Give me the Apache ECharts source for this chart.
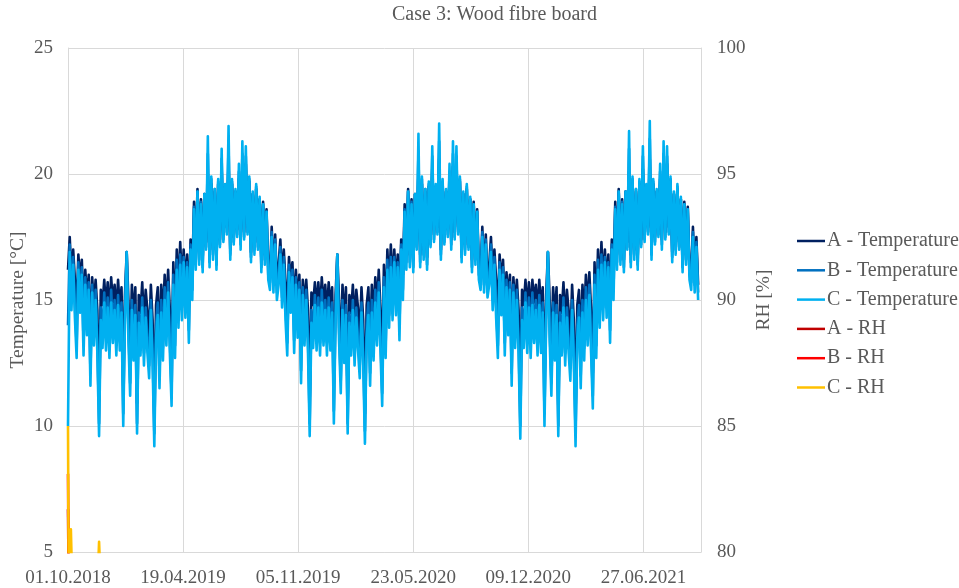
<!DOCTYPE html>
<html>
<head>
<meta charset="utf-8">
<script src="https://cdn.jsdelivr.net/npm/echarts@6/dist/echarts.min.js"></script>
<style>html,body{margin:0;padding:0;background:#fff;}#c{width:959px;height:588px;}</style>
</head>
<body>
<div id="c"></div>
<script>
// ---- data ----
const chartTitle = 'Case 3: Wood fibre board';
const seriesNames = ['A - Temperature', 'B - Temperature', 'C - Temperature', 'A - RH', 'B - RH', 'C - RH'];
const xTickLabels = ['01.10.2018', '19.04.2019', '05.11.2019', '23.05.2020', '09.12.2020', '27.06.2021'];
const xTickStepDays = 200;
const xMaxDays = 1100;
const sampleStepDays = 3; // temperature samples every 3 days from 01.10.2018

// A - Temperature [°C]
const aTempY1 = [16.2,17.5,15.9,17.0,15.8,14.6,16.8,15.8,16.6,14.6,
 16.2,15.1,16.0,13.4,15.9,14.8,15.8,14.6,11.0,15.4,
 14.8,15.8,14.7,15.7,14.4,15.9,14.9,15.6,14.5,15.8,
 14.7,15.5,11.6,15.2,16.9,15.0,12.8,15.6,14.3,15.5,
 10.9,15.2,14.5,15.7,14.1,15.4,14.6,13.4,15.6,14.2,
 10.4,14.8,15.5,13.0,15.6,14.3,16.0,14.7,16.2,14.6,
 12.2,16.5,14.3,17.0,15.4,17.3,15.6,17.0,15.6,16.8,
 14.7,17.4,16.0,18.9,16.8,19.4,16.9,19.0,16.6,19.2,
 17.3,20.0,16.8,19.6,17.0,19.3,16.7,19.6,17.4,20.2,
 17.6,19.5,17.9,20.5,17.0,19.6,17.5,19.3,17.8,19.8,
 17.4,20.3,17.7,20.4,17.9,19.7,16.9,19.2,17.2,19.4,
 17.3,19.0,16.6,18.9,16.8,18.6,16.3,16.0,17.9,15.9,
 17.6,15.6];
const aTempY2 = [16.4,17.4,15.9,17.0,15.7,14.6,16.7,15.8,16.5,14.7,
 16.2,15.0,16.0,13.5,15.8,14.8,15.8,14.6,11.0,15.3,
 14.8,15.7,14.7,15.7,14.5,15.9,14.8,15.6,14.5,15.7,
 14.7,15.5,11.7,15.2,16.8,15.0,12.9,15.6,14.2,15.5,
 10.9,15.2,14.5,15.6,14.1,15.4,14.7,13.4,15.5,14.2,
 10.5,14.8,15.5,13.1,15.6,14.3,15.9,14.7,16.2,14.7,
 12.2,16.4,14.3,17.0,15.4,17.2,15.6,17.0,15.7,16.8,
 14.8,17.4,16.0,18.8,16.8,19.4,16.8,19.0,16.6,19.2,
 17.3,20.1,16.8,19.6,17.0,19.3,16.7,19.5,17.4,20.2,
 17.6,19.5,17.9,20.6,17.0,19.6,17.5,19.3,17.8,19.8,
 17.4,20.3,17.7,20.4,17.9,19.7,16.9,19.2,17.2,19.4,
 17.3,19.0,16.6,18.9,16.8,18.6,16.3,16.0,17.9,15.9,
 17.6,15.7];
const aTempY3 = [16.4,17.5,15.9,17.0,15.8,14.6,16.8,15.7,16.6,14.6,
 16.1,15.1,16.0,13.4,15.9,14.7,15.8,14.6,10.9,15.4,
 14.8,15.8,14.6,15.7,14.4,15.8,14.9,15.6,14.5,15.8,
 14.6,15.5,11.6,15.2,16.9,15.0,12.8,15.5,14.3,15.5,
 10.8,15.2,14.5,15.7,14.1,15.4,14.6,13.3,15.6,14.2,
 10.4,14.8,15.4,13.0,15.6,14.3,16.0,14.7,16.1,14.6,
 12.1,16.5,14.3,17.0,15.4,17.3,15.6,17.0,15.6,16.8,
 14.7,17.4,16.0,18.9,16.8,19.4,16.9,19.0,16.6,19.3,
 17.3,20.1,16.8,19.6,17.0,19.3,16.7,19.6,17.4,20.2,
 17.6,19.5,17.9,20.6,17.0,19.6,17.5,19.3,17.8,19.8,
 17.4,20.3,17.7,20.4,17.9,19.7,16.9,19.2,17.2,19.4,
 17.3,19.0,16.6,18.9,16.8,18.7,16.3,16.0,17.9,15.9,
 17.5,15.6];

// B - Temperature [°C]
const bTempY1 = [14.0,17.2,15.0,16.7,14.8,13.2,16.5,14.9,16.3,13.3,
 15.9,14.0,15.7,12.1,15.6,13.7,15.4,13.4,10.1,14.7,
 13.6,15.3,13.5,15.1,13.2,15.4,13.8,15.0,13.3,15.2,
 13.5,14.9,10.5,14.6,16.9,13.9,11.7,15.0,13.1,14.8,
 10.1,14.5,13.3,15.1,12.9,14.7,13.4,12.4,15.0,13.0,
 9.7,14.0,14.9,12.0,15.0,13.1,15.5,13.7,15.7,13.4,
 11.3,16.0,13.2,16.6,14.4,16.8,14.7,16.7,14.7,16.5,
 13.8,17.2,15.4,18.7,16.5,19.3,16.6,18.9,16.3,19.2,
 17.1,20.8,16.5,19.8,16.8,19.4,16.4,19.7,17.2,20.6,
 17.4,19.5,17.7,21.2,16.8,19.7,17.3,19.3,17.6,20.1,
 17.2,20.8,17.5,20.7,17.7,19.8,16.7,19.2,17.0,19.5,
 17.1,19.0,16.3,18.8,16.6,18.5,16.0,15.7,17.7,15.6,
 17.4,15.3];
const bTempY2 = [15.9,17.1,15.1,16.7,14.8,13.3,16.4,14.9,16.2,13.4,
 15.9,14.0,15.7,12.2,15.5,13.7,15.4,13.5,10.1,14.6,
 13.6,15.2,13.5,15.1,13.3,15.4,13.7,15.0,13.3,15.1,
 13.5,14.9,10.6,14.6,16.8,13.9,11.8,15.0,13.0,14.8,
 10.1,14.5,13.3,15.0,12.9,14.7,13.5,12.4,14.9,13.0,
 9.8,14.0,14.9,12.1,15.0,13.1,15.4,13.7,15.7,13.5,
 11.3,15.9,13.2,16.6,14.4,16.7,14.7,16.7,14.8,16.5,
 13.9,17.2,15.4,18.6,16.5,19.3,16.5,18.9,16.3,19.2,
 17.1,20.9,16.5,19.8,16.8,19.4,16.4,19.6,17.2,20.7,
 17.4,19.5,17.7,21.3,16.8,19.7,17.3,19.3,17.6,20.1,
 17.2,20.8,17.5,20.7,17.7,19.8,16.7,19.2,17.0,19.5,
 17.1,19.0,16.3,18.8,16.6,18.5,16.0,15.7,17.7,15.6,
 17.4,15.4];
const bTempY3 = [15.9,17.2,15.0,16.7,14.8,13.2,16.5,14.8,16.3,13.3,
 15.8,14.0,15.7,12.1,15.6,13.6,15.4,13.4,10.0,14.7,
 13.6,15.3,13.4,15.1,13.2,15.3,13.8,15.0,13.3,15.2,
 13.4,14.9,10.5,14.6,16.9,13.9,11.7,14.9,13.1,14.8,
 10.0,14.5,13.3,15.1,12.9,14.7,13.4,12.3,15.0,13.0,
 9.7,14.0,14.8,12.0,15.0,13.1,15.5,13.7,15.6,13.4,
 11.2,16.0,13.2,16.6,14.4,16.8,14.7,16.7,14.7,16.5,
 13.8,17.2,15.4,18.7,16.5,19.3,16.6,18.9,16.3,19.3,
 17.1,21.0,16.5,19.8,16.8,19.4,16.4,19.7,17.2,20.7,
 17.4,19.5,17.7,21.4,16.8,19.7,17.3,19.3,17.6,20.1,
 17.2,20.8,17.5,20.7,17.7,19.8,16.7,19.2,17.0,19.5,
 17.1,19.0,16.3,18.8,16.6,18.6,16.0,15.7,17.7,15.6,
 17.3,15.3];

// C - Temperature [°C]
const cTempY1 = [10.0,16.9,14.6,16.4,14.3,12.7,16.2,14.5,16.0,12.8,
 15.6,13.6,15.4,11.6,15.3,13.2,15.0,12.9,9.6,14.2,
 13.1,14.9,13.0,14.7,12.7,14.9,13.3,14.6,12.8,14.8,
 13.0,14.5,10.0,14.2,16.9,13.4,11.2,14.6,12.6,14.4,
 9.7,14.1,12.8,14.7,12.4,14.3,12.9,11.9,14.6,12.5,
 9.2,13.5,14.4,11.5,14.5,12.6,15.0,13.2,15.3,12.9,
 10.8,15.6,12.7,16.2,13.9,16.4,14.2,16.5,14.3,16.3,
 13.3,17.0,15.0,18.6,16.2,19.3,16.4,18.8,16.1,19.2,
 17.0,21.5,16.3,19.9,16.6,19.4,16.2,19.8,17.1,21.0,
 17.3,19.6,17.6,21.9,16.6,19.8,17.2,19.4,17.5,20.4,
 17.0,21.3,17.4,21.1,17.6,19.9,16.5,19.3,16.8,19.6,
 17.0,19.1,16.1,18.8,16.4,18.5,15.8,15.4,17.5,15.3,
 17.2,15.0];
const cTempY2 = [15.6,16.8,14.7,16.4,14.2,12.8,16.1,14.5,15.9,12.9,
 15.6,13.5,15.4,11.7,15.2,13.2,15.0,13.0,9.6,14.1,
 13.1,14.8,13.0,14.7,12.8,14.9,13.2,14.6,12.8,14.7,
 13.0,14.5,10.1,14.2,16.8,13.4,11.3,14.6,12.5,14.4,
 9.7,14.1,12.8,14.6,12.4,14.3,13.0,11.9,14.5,12.5,
 9.3,13.5,14.4,11.6,14.5,12.6,14.9,13.2,15.3,13.0,
 10.8,15.5,12.7,16.2,13.9,16.3,14.2,16.5,14.4,16.3,
 13.4,17.0,15.0,18.5,16.2,19.3,16.3,18.8,16.1,19.2,
 17.0,21.6,16.3,19.9,16.6,19.4,16.2,19.7,17.1,21.1,
 17.3,19.6,17.6,22.0,16.6,19.8,17.2,19.4,17.5,20.4,
 17.0,21.3,17.4,21.1,17.6,19.9,16.5,19.3,16.8,19.6,
 17.0,19.1,16.1,18.8,16.4,18.5,15.8,15.4,17.5,15.3,
 17.2,15.1];
const cTempY3 = [15.6,16.9,14.6,16.4,14.3,12.7,16.2,14.4,16.0,12.8,
 15.5,13.6,15.4,11.6,15.3,13.1,15.0,12.9,9.5,14.2,
 13.1,14.9,12.9,14.7,12.7,14.8,13.3,14.6,12.8,14.8,
 12.9,14.5,10.0,14.2,16.9,13.4,11.2,14.5,12.6,14.4,
 9.6,14.1,12.8,14.7,12.4,14.3,12.9,11.8,14.6,12.5,
 9.2,13.5,14.3,11.5,14.5,12.6,15.0,13.2,15.2,12.9,
 10.7,15.6,12.7,16.2,13.9,16.4,14.2,16.5,14.3,16.3,
 13.3,17.0,15.0,18.6,16.2,19.3,16.4,18.8,16.1,19.3,
 17.0,21.7,16.3,19.9,16.6,19.4,16.2,19.8,17.1,21.1,
 17.3,19.6,17.6,22.1,16.6,19.8,17.2,19.4,17.5,20.4,
 17.0,21.3,17.4,21.1,17.6,19.9,16.5,19.3,16.8,19.6,
 17.0,19.1,16.1,18.8,16.4,18.6,15.8,15.4,17.5,15.3,
 17.1,15.0];

// RH [%] (only the first days reach the 80–100 % range of the right axis)
const rhDays = [0, 1, 3, 5, 7, 51, 54, 57, 1095];
const aRH = [81.7, 79.2, 78.6, 78.4, 78.0, 77.0, 77.6, 77.0, 76.0];
const bRH = [83.1, 79.5, 79.0, 79.0, 78.4, 77.4, 78.4, 77.4, 76.5];
const cRH = [85.0, 79.6, 79.4, 80.9, 79.0, 78.5, 80.4, 78.5, 77.0];

const colors = ['#002060', '#0070C0', '#00B0F0', '#C00000', '#FF0000', '#FFC000'];

// ---- build ----
const aTemp = aTempY1.concat(aTempY2, aTempY3);
const bTemp = bTempY1.concat(bTempY2, bTempY3);
const cTemp = cTempY1.concat(cTempY2, cTempY3);
const toPairs = arr => arr.map((v, i) => [i * sampleStepDays, v]);
const rhPairs = arr => arr.map((v, i) => [rhDays[i], v]);

const FONT = 'Liberation Serif';
const TXT = '#595959';
const GRID = '#d9d9d9';

function line(name, data, color, yIdx) {
  return {
    name, type: 'line', data, yAxisIndex: yIdx, symbol: 'none', showSymbol: false,
    sampling: null, clip: true, color,
    lineStyle: { width: 2.6, color, join: 'round' }, emphasis: { disabled: true }
  };
}

const chart = echarts.init(document.getElementById('c'), null, { renderer: 'canvas' });
chart.setOption({
  animation: false,
  backgroundColor: '#ffffff',
  textStyle: { fontFamily: FONT },
  title: {
    text: chartTitle, left: 392, top: 5, padding: 0,
    textStyle: { fontFamily: FONT, fontSize: 20, fontWeight: 'normal', color: TXT }
  },
  legend: {
    orient: 'vertical', left: 797, top: 231, padding: 0,
    icon: 'rect', itemWidth: 28, itemHeight: 2.5, itemGap: 9.3,
    data: seriesNames,
    textStyle: { fontFamily: FONT, fontSize: 20, color: TXT, lineHeight: 20, padding: [0, 0, 0, -3] }
  },
  grid: { left: 68, right: 258, top: 48, bottom: 36, containLabel: false, outerBoundsMode: 'none' },
  xAxis: {
    type: 'value', min: 0, max: xMaxDays, interval: xTickStepDays,
    axisLine: { show: true, lineStyle: { color: GRID, width: 1 } },
    axisTick: { show: false },
    splitLine: { show: true, lineStyle: { color: GRID, width: 1 } },
    axisLabel: {
      margin: 17, fontFamily: FONT, fontSize: 19, color: TXT,
      formatter: v => { const k = v / xTickStepDays; return Number.isInteger(k) && xTickLabels[k] ? xTickLabels[k] : ''; }
    }
  },
  yAxis: [
    {
      type: 'value', min: 5, max: 25, interval: 5, position: 'left',
      name: 'Temperature [°C]', nameLocation: 'middle', nameGap: 40, nameRotate: 90, nameMoveOverlap: false,
      nameTextStyle: { fontFamily: FONT, fontSize: 19.5, color: TXT },
      axisLine: { show: true, lineStyle: { color: GRID } },
      axisTick: { show: false },
      splitLine: { show: true, lineStyle: { color: GRID } },
      axisLabel: { margin: 15, fontFamily: FONT, fontSize: 19, color: TXT }
    },
    {
      type: 'value', min: 80, max: 100, interval: 5, position: 'right',
      name: 'RH [%]', nameLocation: 'middle', nameGap: 53, nameRotate: 90, nameMoveOverlap: false,
      nameTextStyle: { fontFamily: FONT, fontSize: 19.5, color: TXT },
      axisLine: { show: true, lineStyle: { color: GRID } },
      axisTick: { show: false },
      splitLine: { show: false },
      axisLabel: { margin: 16, fontFamily: FONT, fontSize: 19, color: TXT }
    }
  ],
  series: [
    line(seriesNames[0], toPairs(aTemp), colors[0], 0),
    line(seriesNames[1], toPairs(bTemp), colors[1], 0),
    line(seriesNames[2], toPairs(cTemp), colors[2], 0),
    line(seriesNames[3], rhPairs(aRH), colors[3], 1),
    line(seriesNames[4], rhPairs(bRH), colors[4], 1),
    line(seriesNames[5], rhPairs(cRH), colors[5], 1)
  ]
});
</script>
</body>
</html>
